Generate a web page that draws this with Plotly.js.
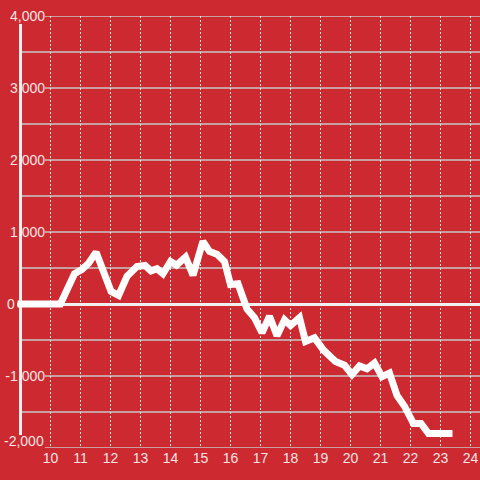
<!DOCTYPE html>
<html>
<head>
<meta charset="utf-8">
<script src="https://cdn.plot.ly/plotly-3.0.1.min.js"></script>
<style>html,body{margin:0;padding:0;background:#cc2930;}#chart{width:480px;height:480px;}</style>
</head>
<body>
<div id="chart"></div>
<script>
// Data
var times = [8.9, 10.33, 10.8, 11.05, 11.27, 11.52, 12.02, 12.27, 12.55, 12.88, 13.15, 13.35, 13.55, 13.75,
  14.0, 14.2, 14.5, 14.75, 15.08, 15.3, 15.55, 15.8, 16.0, 16.25, 16.55, 16.8, 17.05, 17.3, 17.55, 17.8,
  18.0, 18.3, 18.5, 18.8, 19.1, 19.5, 19.8, 20.05, 20.3, 20.55, 20.8, 21.05, 21.3, 21.55, 21.8, 22.1,
  22.35, 22.6, 23.4];
var values = [0, 0, 420, 480, 565, 720, 175, 120, 385, 520, 535, 460, 490, 420,
  590, 540, 650, 400, 870, 730, 690, 590, 270, 280, -70, -190, -400, -170, -440, -220,
  -300, -190, -520, -470, -640, -800, -850, -980, -860, -900, -820, -1010, -960, -1270, -1420, -1660,
  -1660, -1800, -1800];
var xTicks = [10, 11, 12, 13, 14, 15, 16, 17, 18, 19, 20, 21, 22, 23, 24];
var yTickVals = [-1000, 1000, 2000, 3000, 4000];
var yTickLabels = ["-1,000", "1,000", "2,000", "3,000", "4,000"];
var yMajorGrid = [-2000, -1000, 1000, 2000, 3000, 4000];
var yMinorGrid = [-1500, -500, 500, 1500, 2500, 3500];
var zeroLabel = "0";
var bottomLabel = "-2,000";
var bottomValue = -2000;

var RED = "#cc2930";
var TXT = "#f8e4e4";
var GRID = "#c9c9c9";
var FONT = "Liberation Sans, Arial, sans-serif";

var shapes = [];
// thick white vertical bar at the left
shapes.push({type: "line", xref: "paper", yref: "paper", x0: 0.0076, x1: 0.0076, y0: 0.030, y1: 0.9815,
  line: {color: "#f0f0f0", width: 3}, layer: "below"});
yMajorGrid.forEach(function (v) {
  shapes.push({type: "line", xref: "paper", yref: "y", x0: 0.0605, x1: 1, y0: v, y1: v,
    line: {color: GRID, width: 1.5}, layer: "between"});
});
yMinorGrid.forEach(function (v) {
  shapes.push({type: "line", xref: "paper", yref: "y", x0: 0.0108, x1: 1, y0: v, y1: v,
    line: {color: GRID, width: 1.5}, layer: "between"});
});

var traces = [
  {x: times, y: values, type: "scatter", mode: "lines",
   line: {color: "#ffffff", width: 7}, hoverinfo: "skip", showlegend: false},
  {x: [times[0]], y: [values[0]], yaxis: "y2", type: "scatter", mode: "lines",
   opacity: 0, hoverinfo: "skip", showlegend: false}
];

var layout = {
  width: 480, height: 480,
  margin: {l: 17, r: 0, t: 16, b: 32, pad: 0},
  paper_bgcolor: RED, plot_bgcolor: RED,
  showlegend: false,
  font: {family: FONT, size: 14, color: TXT},
  xaxis: {
    range: [8.883, 24.317], tickvals: xTicks, ticktext: xTicks.map(String),
    showgrid: true, gridcolor: "#e6e6e6", gridwidth: 1, griddash: "2px,2px",
    zeroline: false, showline: false, ticks: "",
    tickfont: {family: FONT, size: 14, color: TXT}, fixedrange: true
  },
  yaxis: {
    range: [-2000, 4000], showgrid: false, showticklabels: false, ticks: "",
    zeroline: true, zerolinecolor: "#f0f0f0", zerolinewidth: 3, showline: false, fixedrange: true
  },
  yaxis2: {
    overlaying: "y", anchor: "free", position: 0.0605, side: "left",
    range: [-2000, 4000], tickvals: yTickVals, ticktext: yTickLabels,
    showgrid: false, zeroline: false, showline: false, ticks: "",
    tickfont: {family: FONT, size: 14, color: TXT}, fixedrange: true
  },
  shapes: shapes,
  annotations: [
    {xref: "paper", yref: "y", x: -0.0119, y: 0, text: zeroLabel, showarrow: false,
     xanchor: "center", yanchor: "middle", font: {family: FONT, size: 14, color: TXT}},
    {xref: "paper", yref: "y", x: 0.0562, y: bottomValue, yshift: 7, text: bottomLabel, showarrow: false,
     xanchor: "right", yanchor: "middle", xshift: 2, borderpad: 0,
     font: {family: FONT, size: 14, color: TXT}}
  ]
};

Plotly.newPlot("chart", traces, layout, {displayModeBar: false, staticPlot: true});
</script>
</body>
</html>
